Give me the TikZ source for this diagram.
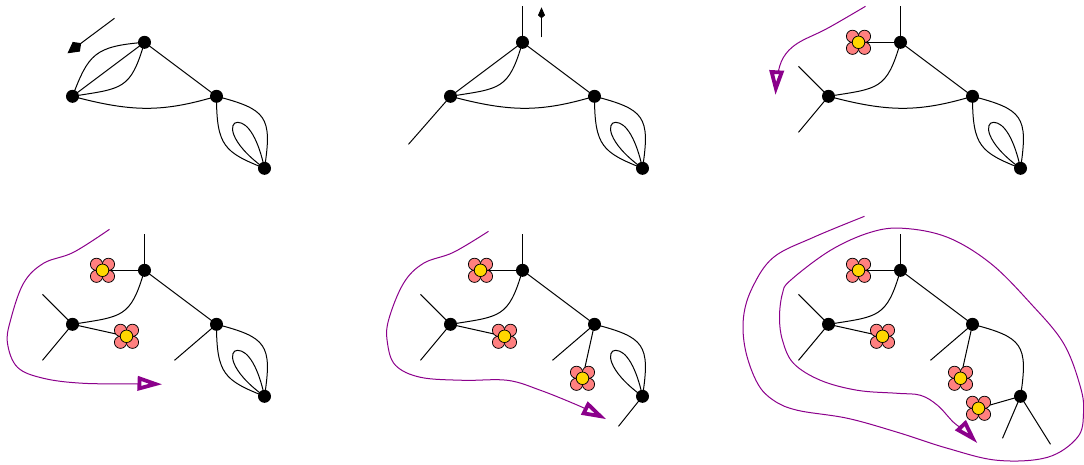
\documentclass[tikz,border=0pt]{standalone}
\usetikzlibrary{arrows.meta,backgrounds}
\definecolor{pathpurple}{HTML}{8B008B}
\definecolor{petalred}{HTML}{FF8080}
\definecolor{heartyellow}{HTML}{FFD700}
\tikzset{
  x=1pt,y=-1pt,
  vert/.style={circle,fill=black,draw=none,minimum size=13pt,inner sep=0pt},
  edge/.style={line width=1pt,black},
  kitearrow/.style={edge,-{Kite[length=17pt,width=12pt,inset=6pt]}},
  smallarrow/.style={edge,-{Kite[length=11pt,width=7pt,inset=3pt]}},
  walk/.style={line width=1pt,pathpurple,-{Triangle[open,length=25pt,width=14pt,line width=3.8pt,fill=white]}},
  petal/.style={draw=black,line width=0.75pt,fill=petalred},
  heart/.style={circle,draw=black,line width=0.75pt,fill=heartyellow,minimum size=12.5pt,inner sep=0pt},
}
\newcommand{\flower}[2]{%
  \begin{scope}[shift={(#2)}]
    \foreach \sx in {-6,6}\foreach \sy in {-6,6}{\draw[petal] (\sx,\sy) circle (6.1);}
  \end{scope}
  \node[heart] (#1) at (#2) {};
}
\newcommand{\verts}[3]{%
  \node[vert] (a#1) at (#2+72,#3+96) {};
  \node[vert] (b#1) at (#2+144,#3+42) {};
  \node[vert] (c#1) at (#2+216,#3+96) {};
  \node[vert] (d#1) at (#2+264,#3+168) {};
}
\newcommand{\spine}[1]{%
  \draw[edge] (b#1.center) -- (c#1.center);
  \draw[edge] (a#1.center) .. controls +(50,-8) and +(-14,48) .. (b#1.center);
}
\newcommand{\lowerarc}[1]{%
  \draw[edge] (a#1.center) .. controls +(60,16) and +(-54,16) .. (c#1.center);
}
\newcommand{\outerarc}[1]{%
  \draw[edge] (c#1.center) .. controls +(50,13) and +(8,-52) .. (d#1.center);
}
\newcommand{\innerarc}[1]{%
  \draw[edge] (c#1.center) .. controls +(0,50) and +(-40,-16) .. (d#1.center);
}
\newcommand{\petalloop}[1]{%
  \begin{scope}[shift={(d#1)}]
    \draw[edge] (0,0) .. controls (-6,-28) and (-16,-46) .. (-27,-46) .. controls (-36,-46) and (-36,-26) .. (0,0);
  \end{scope}
}
\begin{document}
\begin{tikzpicture}
\useasboundingbox (-0.5,-0.3) rectangle (1083.5,463.7);
\verts{1}{0}{0}
\coordinate (p1s) at (114,18); \coordinate (p1e) at (67,53);
\verts{2}{378}{0}
\coordinate (s2a) at (408,144); \coordinate (s2b) at (522,6);
\coordinate (p2s) at (541,37); \coordinate (p2e) at (541,7);
\verts{3}{756}{0}
\flower{f3}{858,42}
\coordinate (s3a) at (798,66); \coordinate (s3b) at (798,132); \coordinate (s3c) at (900,6);
\verts{4}{0}{228}
\flower{f4a}{102,270}
\flower{f4b}{126,336}
\coordinate (s4a) at (42,294); \coordinate (s4b) at (42,360); \coordinate (s4c) at (144,234); \coordinate (s4d) at (174,360);
\verts{5}{378}{228}
\flower{f5a}{480,270}
\flower{f5b}{504,336}
\flower{f5c}{582,378}
\coordinate (s5a) at (420,294); \coordinate (s5b) at (420,360); \coordinate (s5c) at (522,234); \coordinate (s5d) at (552,360); \coordinate (s5e) at (618,426);
\verts{6}{756}{228}
\flower{f6a}{858,270}
\flower{f6b}{882,336}
\flower{f6c}{960,378}
\flower{f6d}{978,408}
\coordinate (s6a) at (798,294); \coordinate (s6b) at (798,360); \coordinate (s6c) at (900,234); \coordinate (s6d) at (930,360); \coordinate (s6e) at (1002,438); \coordinate (s6f) at (1050,444);

\begin{scope}[on background layer]
\spine{1}\lowerarc{1}\outerarc{1}\innerarc{1}\petalloop{1}
\draw[edge] (a1.center) -- (b1.center);
\draw[edge] (a1.center) .. controls +(16,-42) and +(-50,4) .. (b1.center);
\spine{2}\lowerarc{2}\outerarc{2}\innerarc{2}\petalloop{2}
\draw[edge] (a2.center) -- (b2.center);
\draw[edge] (a2.center) -- (s2a);
\draw[edge] (b2.center) -- (s2b);
\spine{3}\lowerarc{3}\outerarc{3}\innerarc{3}\petalloop{3}
\draw[edge] (a3.center) -- (s3a);
\draw[edge] (a3.center) -- (s3b);
\draw[edge] (b3.center) -- (s3c);
\draw[edge] (b3.center) -- (f3.center);
\spine{4}\outerarc{4}\innerarc{4}\petalloop{4}
\draw[edge] (a4.center) -- (s4a);
\draw[edge] (a4.center) -- (s4b);
\draw[edge] (b4.center) -- (s4c);
\draw[edge] (c4.center) -- (s4d);
\draw[edge] (b4.center) -- (f4a.center);
\draw[edge] (a4.center) -- (f4b.center);
\spine{5}\outerarc{5}\petalloop{5}
\draw[edge] (a5.center) -- (s5a);
\draw[edge] (a5.center) -- (s5b);
\draw[edge] (b5.center) -- (s5c);
\draw[edge] (c5.center) -- (s5d);
\draw[edge] (d5.center) -- (s5e);
\draw[edge] (b5.center) -- (f5a.center);
\draw[edge] (a5.center) -- (f5b.center);
\draw[edge] (c5.center) -- (f5c.center);
\spine{6}\outerarc{6}
\draw[edge] (a6.center) -- (s6a);
\draw[edge] (a6.center) -- (s6b);
\draw[edge] (b6.center) -- (s6c);
\draw[edge] (c6.center) -- (s6d);
\draw[edge] (d6.center) -- (s6e);
\draw[edge] (d6.center) -- (s6f);
\draw[edge] (b6.center) -- (f6a.center);
\draw[edge] (a6.center) -- (f6b.center);
\draw[edge] (c6.center) -- (f6c.center);
\draw[edge] (d6.center) -- (f6d.center);
\end{scope}
\draw[kitearrow] (p1s) -- (p1e);
\draw[smallarrow] (p2s) -- (p2e);
\draw[walk] plot[smooth,tension=0.6] coordinates {(865,6) (827,28) (797,43) (783,57) (777,75) (775,95)};
\draw[walk] plot[smooth,tension=0.6] coordinates {(109,229) (73,252) (43,263) (23,283) (10,320) (7,343) (17,367) (43,378) (83,383) (140,383.5) (162,384)};
\draw[walk] plot[smooth,tension=0.6] coordinates {(488,231) (453,252) (423,263) (403,283) (388,320) (387,343) (395,365) (420,377) (463,380) (507,380) (540,390) (575,404) (590,411) (606,419)};
\draw[walk] plot[smooth,tension=0.6] coordinates {(864,216) (813,237) (773,257) (752,287) (743,317) (745,350) (757,383) (773,400) (797,410) (847,418) (897,432) (947,448) (997,460) (1047,457) (1077,437) (1083,413) (1080,387) (1063,343) (1030,303) (990,263) (947,237) (903,228) (870,232) (830,250) (790,280) (782,293) (779,317) (782,340) (793,363) (820,380) (857,390) (897,393) (920,395) (937,405) (953,422) (965,431) (977,443)};
\end{tikzpicture}
\end{document}
